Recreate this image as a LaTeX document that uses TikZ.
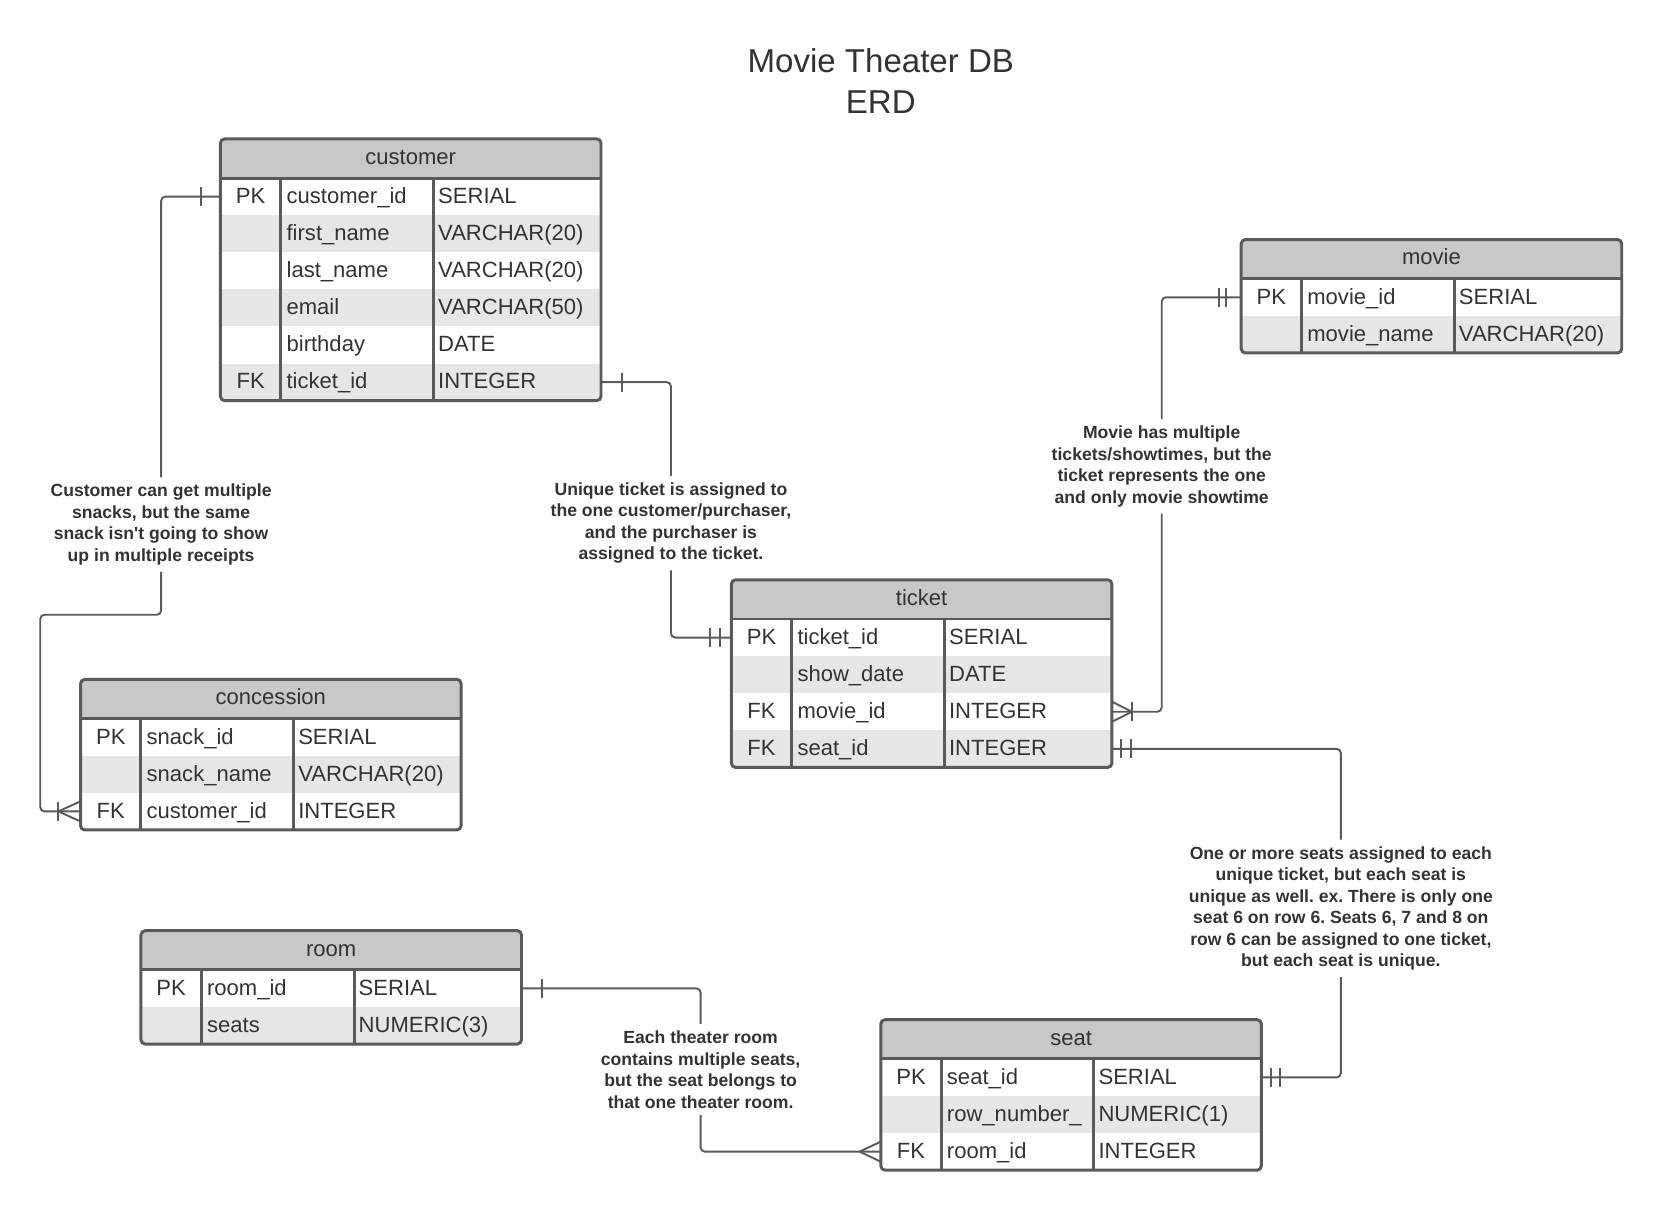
\documentclass[tikz,border=0pt]{standalone}
\usepackage{fontspec}
\setmainfont{Liberation Sans}
\usetikzlibrary{calc}
\definecolor{hdrgray}{HTML}{C8C8C8}
\definecolor{rowgray}{HTML}{E6E6E6}
\definecolor{linegray}{HTML}{5A5A5A}
\definecolor{txt}{HTML}{333333}
\tikzset{
  tabline/.style={draw=linegray, line width=1.4pt},
  conn/.style={draw=linegray, line width=0.9pt},
  link/.style={conn, rounded corners=2pt},
  rowbox/.style={rectangle, inner sep=0pt, outer sep=0pt, minimum width=179.5pt, minimum height=17.5pt},
  cell/.style={inner sep=0pt, text=txt, font=\fontsize{10.4pt}{12pt}\selectfont},
  note/.style={inner xsep=2pt, inner ysep=3pt, align=center, text=txt, font=\frenchspacing\bfseries\fontsize{8.3pt}{10.15pt}\selectfont},
  titlebox/.style={align=center, text=txt, font=\fontsize{15.6pt}{19pt}\selectfont, inner sep=0pt}
}
% #1 name, #2 left x, #3 top y, #4 title, #5 number of rows, #6 rows key/column/type
\newcommand\ertab[6]{%
  \pgfmathsetmacro\tabh{37+35*#5}
  \begin{scope}
    \clip[rounded corners=2pt] (#2,#3) rectangle ++(359,\tabh);
    \fill[hdrgray] (#2,#3) rectangle ++(359,37);
    \foreach \k/\c/\t [count=\i] in {#6} {
      \pgfmathsetmacro\yy{#3+37+35*(\i-1)}
      \ifodd\i\relax\def\rf{white}\else\def\rf{rowgray}\fi
      \node[rowbox, fill=\rf, anchor=north west] (#1-\i) at (#2,\yy) {};
      \node[cell, anchor=base] (#1-\i-k) at (#2+28.5,\yy+24) {\k};
      \node[cell, anchor=base west] (#1-\i-c) at (#2+62,\yy+24) {\c};
      \node[cell, anchor=base west] (#1-\i-t) at (#2+205,\yy+24) {\t};
    }
  \end{scope}
  \node[cell, anchor=base] (#1) at (#2+179.5,#3+24) {#4};
  \draw[tabline, rounded corners=2pt] (#2,#3) rectangle ++(359,\tabh);
  \draw[tabline] (#2,#3+37) -- ++(359,0);
  \draw[tabline] (#2+57,#3+37) -- (#2+57,#3+\tabh);
  \draw[tabline] (#2+201,#3+37) -- (#2+201,#3+\tabh);
}
\newcommand\tbar[2]{\draw[conn] ($(#1)+(#2,-9)$) -- ($(#1)+(#2,9)$);}
\newcommand\crowf[2]{\draw[conn] ($(#1)+(#2,0)$) -- ($(#1)+(0,-9.5)$) ($(#1)+(#2,0)$) -- ($(#1)+(0,9.5)$);}
\begin{document}
\begin{tikzpicture}[x=0.5pt, y=-0.5pt]
\useasboundingbox (0,0) rectangle (1568,1143);
\fill[white] (0,0) rectangle (1568,1143);

\node[titlebox] (title) at (831,76.5) {Movie Theater DB\\ERD};

\ertab{customer}{208}{131}{customer}{6}{PK/customer\_id/SERIAL, /first\_name/VARCHAR(20), /last\_name/VARCHAR(20), /email/VARCHAR(50), /birthday/DATE, FK/ticket\_id/INTEGER}
\ertab{concession}{76}{641}{concession}{3}{PK/snack\_id/SERIAL, /snack\_name/VARCHAR(20), FK/customer\_id/INTEGER}
\ertab{ticket}{690}{547}{ticket}{4}{PK/ticket\_id/SERIAL, /show\_date/DATE, FK/movie\_id/INTEGER, FK/seat\_id/INTEGER}
\ertab{movie}{1171}{226}{movie}{2}{PK/movie\_id/SERIAL, /movie\_name/VARCHAR(20)}
\ertab{room}{133}{878}{room}{2}{PK/room\_id/SERIAL, /seats/NUMERIC(3)}
\ertab{seat}{831}{962}{seat}{3}{PK/seat\_id/SERIAL, /row\_number\_/NUMERIC(1), FK/room\_id/INTEGER}

% customer -> concession
\node[note] (noteA) at (152,495) {Customer can get multiple\\snacks, but the same\\snack isn\textquotesingle t going to show\\up in multiple receipts};
\draw[link] (customer-1.west) -| (noteA.north);
\draw[link] (noteA.south) |- (38,580) |- (concession-3.west);
\tbar{customer-1.west}{-18}
\crowf{concession-3.west}{-21}
\tbar{concession-3.west}{-21}

% customer -> ticket
\node[note] (noteB) at (633,493.5) {Unique ticket is assigned to\\the one customer/purchaser,\\and the purchaser is\\assigned to the ticket.};
\draw[link] (customer-6.east) -| (noteB.north);
\draw[link] (noteB.south) |- (ticket-1.west);
\tbar{customer-6.east}{20}
\tbar{ticket-1.west}{-11}
\tbar{ticket-1.west}{-20}

% movie -> ticket
\node[note] (noteC) at (1096,440) {Movie has multiple\\tickets/showtimes, but the\\ticket represents the one\\and only movie showtime};
\draw[link] (movie-1.west) -| (noteC.north);
\draw[link] (noteC.south) |- (ticket-3.east);
\tbar{movie-1.west}{-14}
\tbar{movie-1.west}{-21}
\crowf{ticket-3.east}{19}
\tbar{ticket-3.east}{19}

% ticket -> seat
\node[note] (noteD) at (1265,857) {One or more seats assigned to each\\unique ticket, but each seat is\\unique as well. ex. There is only one\\seat 6 on row 6. Seats 6, 7 and 8 on\\row 6 can be assigned to one ticket,\\but each seat is unique.};
\draw[link] (ticket-4.east) -| (noteD.north);
\draw[link] (noteD.south) |- (seat-1.east);
\tbar{ticket-4.east}{9}
\tbar{ticket-4.east}{18}
\tbar{seat-1.east}{9}
\tbar{seat-1.east}{18}

% room -> seat
\node[note] (noteE) at (661,1009) {Each theater room\\contains multiple seats,\\but the seat belongs to\\that one theater room.};
\draw[link] (room-1.east) -| (noteE.north);
\draw[link] (noteE.south) |- (seat-3.west);
\tbar{room-1.east}{19}
\crowf{seat-3.west}{-20}
\end{tikzpicture}
\end{document}
